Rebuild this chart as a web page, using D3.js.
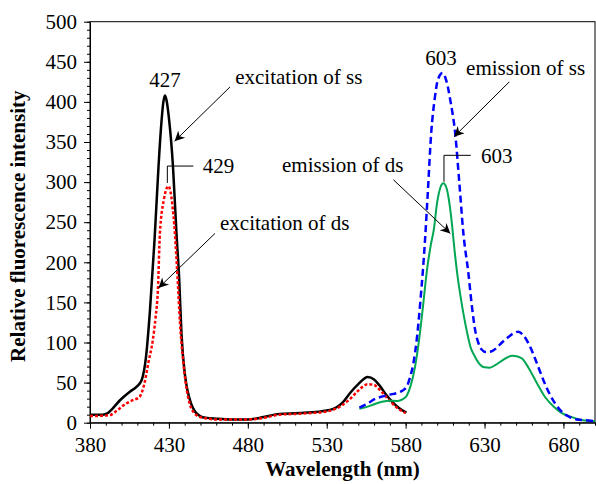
<!DOCTYPE html>
<html>
<head>
<meta charset="utf-8">
<script src="https://cdn.jsdelivr.net/npm/d3@7"></script>
<style>
  body { margin: 0; background: #fff; }
  text { font-family: "Liberation Serif", "Times New Roman", serif; }
</style>
</head>
<body>
<div id="chart"></div>
<script>
// excitation of ss (black solid)
const excSsWl  = [380, 388, 391, 394, 399, 405.3, 409.6, 412.7, 415.6, 418, 420.9, 423.4, 425, 426.5, 427.5, 428.5, 430, 432.6, 434.8, 436.5, 438, 440, 441.7, 444, 446.5, 450, 454, 460, 470, 480, 490, 500, 513, 532, 540, 544.8, 550, 556, 560, 564, 567.8, 572, 576, 580.5];
const excSsVal = [10, 10, 11.5, 17, 28, 38.7, 45, 53, 84, 140, 228, 319, 368, 400, 408, 402, 380, 319, 236, 180, 110, 62, 41, 24, 14, 8, 6, 5, 4, 4, 7, 11, 12, 16, 25, 37, 48, 57, 54, 45, 34.5, 25, 18, 12.5];

// excitation of ds (red dotted)
const excDsWl  = [380, 386, 392.7, 397, 403, 407, 411.3, 414.5, 417, 419.8, 421.5, 423, 424.3, 426.8, 428.5, 429.7, 431, 432, 433.8, 435.5, 437, 439, 441, 443, 446, 450, 455, 460, 470, 480, 490, 500, 510, 520, 530, 540, 545, 550, 556, 560, 565, 570, 575, 580];
const excDsVal = [8.4, 8.5, 9.6, 15, 24, 28, 32, 49, 75, 103, 130, 165, 236, 278, 292, 295, 288, 275, 236, 180, 125, 78, 45, 25, 12, 7, 5, 4, 4, 4, 6, 10, 11, 12, 14, 22, 30, 40, 48, 47, 38, 27, 18, 12];

// emission of ss (blue dashed)
const emSsWl  = [550.7, 556, 560, 564, 570, 574.4, 578, 580.7, 583, 585, 587, 589.5, 592.3, 594, 596.2, 598.5, 600.5, 603.4, 606, 608.5, 611.4, 614, 616.6, 619.8, 622, 624, 626, 628.3, 631, 634.6, 638, 641, 644, 648, 651.4, 655, 658.8, 663, 667.3, 672, 677.8, 683, 688.4, 694, 700];
const emSsVal = [18.7, 24, 29, 32, 35, 37, 40, 45, 58, 75, 103, 155, 228, 285, 361, 405, 428, 436, 425, 400, 361, 300, 236, 186, 145, 116, 100, 91, 88, 89, 94, 100, 105, 111, 113.5, 108, 95, 75, 53, 33, 16, 8, 4, 3, 2];

// emission of ds (green solid)
const emDsWl  = [550.7, 556, 560, 565, 570, 575, 578, 580.7, 583, 586, 588.5, 591, 593.5, 596, 597.8, 600, 602, 603.9, 606, 608, 609.5, 611, 612.7, 615, 617, 619, 621, 624, 627.4, 630, 633.3, 637, 640, 644, 647.5, 651, 653.8, 658, 663.3, 668, 673.9, 679, 684.5, 690, 695, 700];
const emDsVal = [17.5, 20, 23, 26, 27.5, 27, 29, 33.6, 45, 70, 103, 145, 190, 222, 240, 275, 293, 298.5, 292, 270, 245, 215, 186, 155, 132, 112, 95, 82, 72, 69, 68.6, 72, 76, 81, 83.5, 82.5, 80, 68, 49, 33, 20, 12, 7.5, 4, 2.5, 2];

const xMajor = [380, 430, 480, 530, 580, 630, 680];
const yMajor = [0, 50, 100, 150, 200, 250, 300, 350, 400, 450, 500];

// annotations in data units
const peakLabels = [
  { text: '427', wl: 427.5, v: 418.6, anchor: 'middle' },
  { text: '603', wl: 602.4, v: 446, anchor: 'middle' },
  { text: '429', wl: 451.4, v: 311.7, anchor: 'start' },
  { text: '603', wl: 627.8, v: 323.8, anchor: 'start' }
];
const seriesLabels = [
  { text: 'excitation of ss', wl: 472, v: 422 },
  { text: 'excitation of ds', wl: 462.4, v: 240 },
  { text: 'emission of ss', wl: 618.3, v: 433.5 },
  { text: 'emission of ds', wl: 501.7, v: 312 }
];
const arrows = [
  { wl1: 468.7, v1: 418.6, wl2: 433.6, v2: 351 },
  { wl1: 459.2, v1: 236, wl2: 423.4, v2: 168 },
  { wl1: 645.7, v1: 425, wl2: 610.7, v2: 356.6 },
  { wl1: 572.2, v1: 303, wl2: 608.3, v2: 236 }
];
const leaders = [
  { wlA: 429, wlB: 445.5, vTop: 320, vBot: 299 },
  { wlA: 604.3, wlB: 621.3, vTop: 333.4, vBot: 300.5 }
];

const width = 596, height = 484;
const margin = { top: 21.7, right: 1, bottom: 61.3, left: 90 };

const svg = d3.select('#chart')
  .append('svg')
  .attr('width', width)
  .attr('height', height);

const x = d3.scaleLinear()
  .domain([380, 700])
  .range([margin.left, width - margin.right]);

const y = d3.scaleLinear()
  .domain([0, 500])
  .range([height - margin.bottom, margin.top]);

svg.append('defs').append('marker')
  .attr('id', 'arrow')
  .attr('viewBox', '0 0 10 10')
  .attr('refX', 10)
  .attr('refY', 5)
  .attr('markerWidth', 14)
  .attr('markerHeight', 10)
  .attr('markerUnits', 'userSpaceOnUse')
  .attr('orient', 'auto')
  .append('path')
  .attr('d', 'M0,0 L10,5 L0,10 L3,5 Z')
  .attr('fill', '#000');

// frame
svg.append('rect')
  .attr('x', x(380))
  .attr('y', y(500))
  .attr('width', x(700) - x(380))
  .attr('height', y(0) - y(500))
  .attr('fill', 'none')
  .attr('stroke', '#000')
  .attr('stroke-width', 1);

// minor ticks
svg.append('g')
  .attr('transform', `translate(0,${y(0)})`)
  .call(d3.axisBottom(x).ticks(32).tickSize(3).tickFormat(''))
  .call(g => g.select('.domain').remove());

svg.append('g')
  .attr('transform', `translate(${x(380)},0)`)
  .call(d3.axisLeft(y).ticks(50).tickSize(3).tickFormat(''))
  .call(g => g.select('.domain').remove());

// major axes
const xAxis = svg.append('g')
  .attr('transform', `translate(0,${y(0)})`)
  .call(d3.axisBottom(x).tickValues(xMajor).tickSize(6).tickPadding(8).tickSizeOuter(0));

const yAxis = svg.append('g')
  .attr('transform', `translate(${x(380)},0)`)
  .call(d3.axisLeft(y).tickValues(yMajor).tickSize(6).tickPadding(7).tickSizeOuter(0));

[xAxis, yAxis].forEach(a => {
  a.selectAll('text')
    .attr('font-family', '"Liberation Serif", "Times New Roman", serif')
    .attr('font-size', 21)
    .attr('fill', '#000');
  a.selectAll('line, path').attr('stroke', '#000');
});

// axis titles
svg.append('text')
  .attr('x', (x(380) + x(700)) / 2)
  .attr('y', 476)
  .attr('text-anchor', 'middle')
  .attr('font-size', 21)
  .attr('font-weight', 'bold')
  .text('Wavelength (nm)');

svg.append('text')
  .attr('transform', `translate(25,${(y(0) + y(500)) / 2 + 4}) rotate(-90)`)
  .attr('text-anchor', 'middle')
  .attr('font-size', 21)
  .attr('font-weight', 'bold')
  .text('Relative fluorescence intensity');

// curves
const line = d3.line()
  .x(d => x(d[0]))
  .y(d => y(d[1]))
  .curve(d3.curveMonotoneX);

const series = [
  { wl: excSsWl, val: excSsVal, color: '#000000', width: 2.5, dash: null },
  { wl: excDsWl, val: excDsVal, color: '#ff0000', width: 2.5, dash: '3,2' },
  { wl: emDsWl,  val: emDsVal,  color: '#00a651', width: 2,   dash: null },
  { wl: emSsWl,  val: emSsVal,  color: '#0000ff', width: 2.5, dash: '7,4' }
];

svg.append('g')
  .selectAll('path')
  .data(series)
  .join('path')
  .attr('d', s => line(s.wl.map((w, i) => [w, s.val[i]])))
  .attr('fill', 'none')
  .attr('stroke', s => s.color)
  .attr('stroke-width', s => s.width)
  .attr('stroke-dasharray', s => s.dash)
  .attr('stroke-linejoin', 'round');

// annotations
svg.append('g')
  .selectAll('line')
  .data(arrows)
  .join('line')
  .attr('x1', d => x(d.wl1))
  .attr('y1', d => y(d.v1))
  .attr('x2', d => x(d.wl2))
  .attr('y2', d => y(d.v2))
  .attr('stroke', '#000')
  .attr('stroke-width', 1)
  .attr('marker-end', 'url(#arrow)');

svg.append('g')
  .selectAll('path')
  .data(leaders)
  .join('path')
  .attr('d', d => `M${x(d.wlA)},${y(d.vBot)}V${y(d.vTop)}H${x(d.wlB)}`)
  .attr('fill', 'none')
  .attr('stroke', '#000')
  .attr('stroke-width', 1);

svg.append('g')
  .selectAll('text')
  .data(peakLabels)
  .join('text')
  .attr('x', d => x(d.wl))
  .attr('y', d => y(d.v))
  .attr('text-anchor', d => d.anchor)
  .attr('font-size', 21)
  .text(d => d.text);

svg.append('g')
  .selectAll('text')
  .data(seriesLabels)
  .join('text')
  .attr('x', d => x(d.wl))
  .attr('y', d => y(d.v))
  .attr('font-size', 21)
  .text(d => d.text);
</script>
</body>
</html>
